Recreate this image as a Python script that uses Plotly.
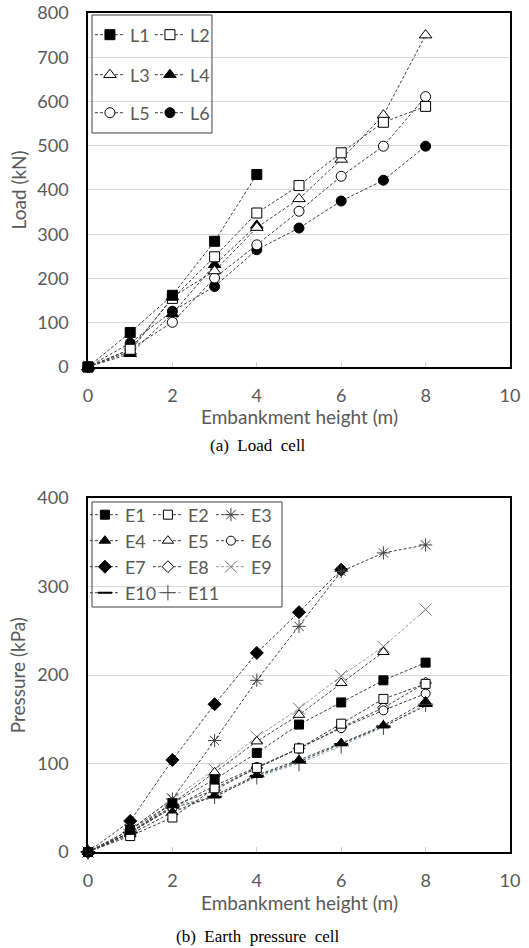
import plotly.graph_objects as go

heights = [0, 1, 2, 3, 4, 5, 6, 7, 8]

# (a) Load cell, kN
L1 = [0, 78, 162, 284, 435]
L2 = [0, 40, 155, 249, 348, 410, 484, 553, 589]
L3 = [0, 35, 158, 217, 315, 380, 469, 569, 750]
L4 = [0, 30, 120, 231, 320]
L5 = [0, 40, 101, 201, 276, 352, 431, 499, 611]
L6 = [0, 54, 126, 182, 265, 314, 375, 422, 499]

# (b) Earth pressure cell, kPa
E1 = [0, 25, 55, 82, 112, 144, 169, 194, 214]
E2 = [0, 18, 39, 72, 95, 117, 145, 173, 190]
E3 = [0, 25, 60, 126, 194, 255, 317, 338, 347]
E4 = [0, 20, 45, 64, 87, 104, 123, 143, 170]
E5 = [0, 22, 55, 90, 125, 155, 191, 226]
E6 = [0, 22, 50, 75, 96, 117, 140, 160, 179]
E7 = [0, 35, 104, 167, 225, 271, 319]
E8 = [0, 22, 52, 70, 95, 117, 141, 163, 191]
E9 = [0, 25, 60, 93, 130, 162, 199, 232, 274]
E10 = [0, 22, 50, 62, 86, 102, 122, 142, 165]
E11 = [0, 22, 52, 63, 85, 100, 120, 141, 167]

GRAY = "#595959"
LINE = "#404040"
DASH = "3px,2px"

# (name, values, symbol, style, size, xaxis, yaxis, legend, line colour, marker colour, marker line width)
series = [
    ("L1", L1, "square", "filled", 10, "x", "y", "legend", LINE, "black", 1),
    ("L2", L2, "square", "hollow", 10, "x", "y", "legend", LINE, "black", 1),
    ("L3", L3, "triangle-up", "hollow", 11, "x", "y", "legend2", LINE, "black", 1),
    ("L4", L4, "triangle-up", "filled", 11, "x", "y", "legend2", LINE, "black", 1),
    ("L5", L5, "circle", "hollow", 10, "x", "y", "legend3", LINE, "black", 1),
    ("L6", L6, "circle", "filled", 10, "x", "y", "legend3", LINE, "black", 1),
    ("E1", E1, "square", "filled", 9, "x2", "y2", "legend4", LINE, "black", 1),
    ("E2", E2, "square", "hollow", 9, "x2", "y2", "legend4", LINE, "black", 1),
    ("E3", E3, "asterisk-open", "line", 11, "x2", "y2", "legend4", LINE, "#404040", 1),
    ("E4", E4, "triangle-up", "filled", 10, "x2", "y2", "legend5", LINE, "black", 1),
    ("E5", E5, "triangle-up", "hollow", 10, "x2", "y2", "legend5", LINE, "black", 1),
    ("E6", E6, "circle", "hollow", 9, "x2", "y2", "legend5", LINE, "black", 1),
    ("E7", E7, "diamond", "filled", 10, "x2", "y2", "legend6", LINE, "black", 1),
    ("E8", E8, "diamond", "hollow", 9, "x2", "y2", "legend6", LINE, "black", 1),
    ("E9", E9, "x-thin-open", "line", 12, "x2", "y2", "legend6", "#9a9a9a", "#707070", 1),
    ("E10", E10, "line-ew-open", "line", 10, "x2", "y2", "legend7", LINE, "black", 2),
    ("E11", E11, "cross-thin-open", "line", 11, "x2", "y2", "legend7", "#8ea4c8", "#404040", 1),
]

fig = go.Figure()

# draw in reverse so the first series sit on top (as in the original), keep legend order by rank
for rank, (name, ys, symbol, style, size, xa, ya, legend, lcolor, mcolor, mlw) in reversed(list(enumerate(series))):
    fill = "white" if style == "hollow" else mcolor
    fig.add_trace(go.Scatter(
        x=heights[:len(ys)], y=ys, name=name, mode="lines+markers",
        xaxis=xa, yaxis=ya, legend=legend, legendrank=rank + 1, cliponaxis=False,
        line=dict(color=lcolor, width=1, dash=DASH),
        marker=dict(symbol=symbol, size=size, color=fill, line=dict(color=mcolor, width=mlw)),
    ))

# invisible spacer entry so the last legend row is not clipped
fig.add_trace(go.Scatter(x=[None], y=[None], name=" ", mode="markers", xaxis="x2", yaxis="y2",
                         legend="legend7", legendrank=100, hoverinfo="skip",
                         marker=dict(size=1, color="rgba(0,0,0,0)", line=dict(width=0))))

FONT = "Lato"
tickfont = dict(family=FONT, size=18, color=GRAY)

xcommon = dict(range=[0, 10], dtick=2, tick0=0, showgrid=False, zeroline=False,
               showline=True, linecolor="black", linewidth=1.5, mirror=True,
               ticks="inside", ticklen=5, tickcolor="#d0d0d0", tickfont=tickfont,
               ticklabelstandoff=12, automargin=False, ticklabeloverflow="allow")
ycommon = dict(dtick=100, tick0=0, showgrid=True, gridcolor="#d9d9d9", gridwidth=1,
               zeroline=False, showline=True, linecolor="black", linewidth=1.5,
               mirror=True, ticks="", tickfont=tickfont, ticklabelstandoff=14,
               automargin=False, ticklabeloverflow="allow")

fig.update_layout(
    width=529, height=948,
    margin=dict(l=88, r=19, t=13, b=96, autoexpand=False),
    paper_bgcolor="white", plot_bgcolor="white",
    xaxis=dict(domain=[0, 1], anchor="y", **xcommon),
    yaxis=dict(domain=[0.5781, 1], anchor="x", range=[0, 800], **ycommon),
    xaxis2=dict(domain=[0, 1], anchor="y2", **xcommon),
    yaxis2=dict(domain=[0, 0.4219], anchor="x2", range=[0, 400], **ycommon),
    font=dict(family=FONT, color=GRAY),
)

legfont = dict(family=FONT, size=18, color=GRAY)
def leg(y, x, ew):
    return dict(orientation="h", x=x, y=y, xanchor="left", yanchor="middle",
                font=legfont, bgcolor="rgba(0,0,0,0)", entrywidth=ew,
                entrywidthmode="pixels", tracegroupgap=0, itemwidth=30,
                traceorder="normal")

fig.update_layout(
    legend=leg(0.9738, 0.0046, 15),
    legend2=leg(0.9261, 0.0046, 15),
    legend3=leg(0.8808, 0.0046, 15),
    legend4=leg(0.4017, -0.0073, 18),
    legend5=leg(0.3707, -0.0073, 18),
    legend6=leg(0.3397, -0.0073, 18),
    legend7=leg(0.3087, -0.0073, 18),
)

# legend frames
fig.add_shape(type="rect", xref="paper", yref="paper", x0=0.0095, x1=0.2938,
              y0=0.857, y1=0.9976, line=dict(color="#404040", width=1))
fig.add_shape(type="rect", xref="paper", yref="paper", x0=0.0095, x1=0.4597,
              y0=0.292, y1=0.4172, line=dict(color="#404040", width=1))

tf = dict(family=FONT, size=19, color=GRAY)
cf = dict(family="Liberation Serif", size=17, color="black")
common = dict(xref="paper", yref="paper", showarrow=False, xanchor="center", yanchor="middle")
ann = [
    dict(text="Load (kN)", x=-0.165, y=0.789, textangle=-90, font=tf, **common),
    dict(text="Pressure (kPa)", x=-0.165, y=0.211, textangle=-90, font=tf, **common),
    dict(text="Embankment height (m)", x=0.5, y=0.5185, font=tf, **common),
    dict(text="Embankment height (m)", x=0.5, y=-0.0596, font=tf, **common),
    dict(text="(a)  Load  cell", x=0.403, y=0.4851, font=cf, **common),
    dict(text="(b)  Earth  pressure  cell", x=0.403, y=-0.1013, font=cf, **common),
]
fig.update_layout(annotations=ann)

fig.write_html("out.html", config={"displayModeBar": False},
               post_script="document.body.style.margin='0';")
